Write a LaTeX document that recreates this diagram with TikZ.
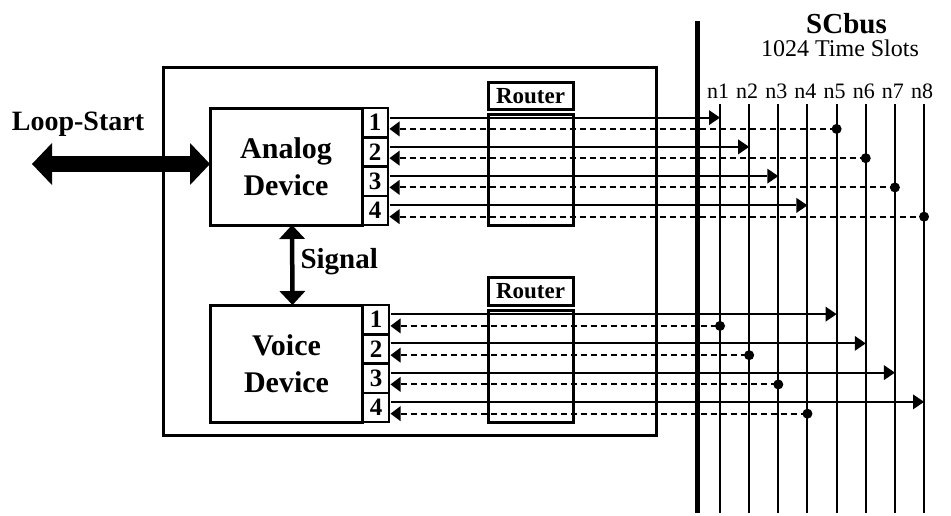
\documentclass[tikz,border=0pt]{standalone}
\usepackage{fontspec}
\setmainfont{Liberation Serif}
\usetikzlibrary{arrows.meta,positioning,calc}

\tikzset{
  box/.style={draw, line width=3pt, inner sep=0pt, outer sep=0pt, align=center},
  devbox/.style={box, minimum width=152pt, minimum height=117pt, font=\fontsize{30}{37}\selectfont\bfseries},
  port/.style={box, line width=2.5pt, minimum width=26pt, minimum height=29.25pt, font=\fontsize{25}{25}\selectfont\bfseries},
  rtlabel/.style={box, minimum width=85pt, minimum height=27.5pt, font=\fontsize{23}{23}\selectfont\bfseries},
  rtbody/.style={box, minimum width=85pt, minimum height=111pt},
  busline/.style={line width=2pt},
  sig/.style={line width=2pt, -{Triangle[length=11pt,width=15pt,line width=0pt]}},
  ret/.style={line width=2pt, dash pattern=on 6pt off 4pt, {Triangle[length=10pt,width=15pt,line width=0pt]}-},
  biglab/.style={font=\fontsize{29}{29}\selectfont\bfseries},
}

\begin{document}
\begin{tikzpicture}[x=1pt, y=-1pt]
    \useasboundingbox (0,0) rectangle (951,515);

    % card and the two devices
    \node[box, minimum width=493pt, minimum height=368pt] (card) at (409.5,251) {};
    \node[devbox] (analog) at (286,166.5) {Analog\\Device};
    \node[devbox] (voice) at (286.5,363.5) {Voice\\Device};

    % ports 1..4
    \foreach \i in {1,...,4} {
        \node[port] (a\i) at (375,{108+29.25*(\i-0.5)}) {\i};
        \node[port] (v\i) at (376,{305+29.25*(\i-0.5)}) {\i};
        \coordinate (ao\i) at ([xshift=1.5pt,yshift=5pt]a\i.east);
        \coordinate (ai\i) at ([xshift=1.5pt,yshift=-6.3pt]a\i.east);
        \coordinate (vo\i) at ([xshift=1.5pt,yshift=5.5pt]v\i.east);
        \coordinate (vi\i) at ([xshift=1.5pt,yshift=-6.3pt]v\i.east);
    }

    % routers
    \node[rtlabel] (arl) at (530.5,95.75) {Router};
    \node[rtbody] (arb) at (530.5,169.5) {};
    \node[rtlabel] (vrl) at (530.5,291.25) {Router};
    \node[rtbody, minimum height=112pt] (vrb) at (530.5,366) {};

    % SCbus
    \coordinate (bustop) at (697,21);
    \coordinate (busbot) at (697,513);
    \draw[line width=5pt] (bustop) -- (busbot);
    \node[biglab] (scbus) at (846.5,24) {SCbus};
    \node[font=\fontsize{24}{24}\selectfont] (slots) at (840,48.5) {1024 Time Slots};
    \foreach \k in {1,...,8} {
        \coordinate (n\k) at ({720+29.15*(\k-1)},104);
        \coordinate (m\k) at ({720+29.15*(\k-1)},513);
        \draw[busline] (n\k) -- (m\k);
        \node[font=\fontsize{22}{22}\selectfont, anchor=base, inner sep=0pt] (nl\k) at ([xshift=-2pt,yshift=6pt]n\k) {n\k};
    }

    % time slot connections
    \foreach \i [evaluate=\i as \j using int(\i+4)] in {1,...,4} {
        \draw[sig] (ao\i) -- (ao\i -| n\i);
        \draw[ret] (ai\i) -- (ai\i -| n\j);
        \fill (ai\i -| n\j) circle[radius=5pt];
        \draw[sig] (vo\i) -- (vo\i -| n\j);
        \draw[ret] (vi\i) -- (vi\i -| n\i);
        \fill (vi\i -| n\i) circle[radius=5pt];
    }

    % signal between devices
    \draw[line width=4.5pt, {Triangle[length=14pt,width=26pt,line width=0pt]}-{Triangle[length=14pt,width=26pt,line width=0pt]}] ([xshift=6pt]analog.south) -- ([xshift=6pt]voice.north);
    \node[biglab, anchor=west] (siglab) at (297,262) {Signal};

    % loop-start line
    \coordinate (loopend) at (32,164);
    \draw[line width=16pt, {Triangle[length=20pt,width=42pt,line width=0pt]}-{Triangle[length=20pt,width=42pt,line width=0pt]}] (loopend) -- (loopend -| analog.west);
    \node[font=\fontsize{28}{28}\selectfont\bfseries] (looplab) at (78,124) {Loop-Start};
\end{tikzpicture}
\end{document}
